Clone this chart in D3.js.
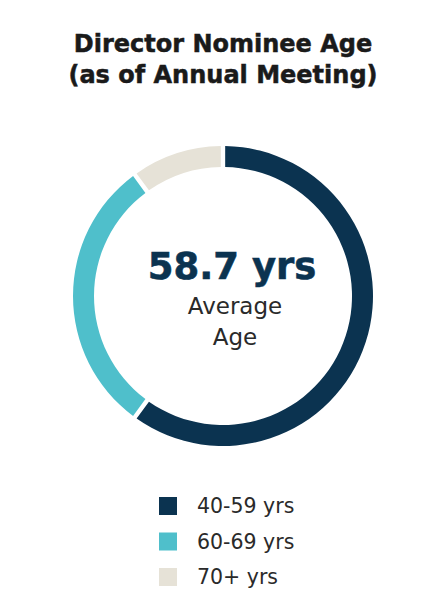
<!DOCTYPE html>
<html>
<head>
<meta charset="utf-8">
<script src="https://cdn.jsdelivr.net/npm/d3@7"></script>
<style>
  html, body { margin: 0; padding: 0; background: #fff; }
  svg { display: block; }
</style>
</head>
<body>
<svg id="chart" width="446" height="590"></svg>
<script>
const categories = ["40-59 yrs", "60-69 yrs", "70+ yrs"];
const values = [60, 30, 10];
const colors = ["#0b3350", "#4fbfcb", "#e6e2d7"];
const titleLines = ["Director Nominee Age", "(as of Annual Meeting)"];
const centerValue = "58.7 yrs";
const centerLabel = ["Average", "Age"];

const svg = d3.select("#chart");
const cx = 223, cy = 296, rOuter = 150, rInner = 129;
const textX = 232;
const font = "'DejaVu Sans', sans-serif";

svg.append("g").selectAll("text").data(titleLines).join("text")
  .attr("x", 223).attr("y", (d, i) => 52 + i * 31)
  .attr("text-anchor", "middle")
  .attr("font-family", font)
  .attr("font-weight", 700)
  .attr("font-size", 24)
  .attr("fill", "#1a1a1a")
  .attr("stroke", "#1a1a1a").attr("stroke-width", 0.5)
  .text(d => d);

const pie = d3.pie().sort(null).value(d => d);
const arc = d3.arc().innerRadius(rInner).outerRadius(rOuter).padAngle(0.022);
const color = d3.scaleOrdinal().domain(categories).range(colors);

svg.append("g").attr("transform", `translate(${cx},${cy})`)
  .selectAll("path").data(pie(values)).join("path")
  .attr("d", arc)
  .attr("fill", (d, i) => color(categories[i]));

svg.append("text").attr("x", textX).attr("y", 279)
  .attr("text-anchor", "middle")
  .attr("font-family", font).attr("font-weight", 700)
  .attr("font-size", 37).attr("fill", "#0b3350")
  .attr("stroke", "#0b3350").attr("stroke-width", 0.6)
  .text(centerValue);

svg.append("g").selectAll("text").data(centerLabel).join("text")
  .attr("x", textX + 3).attr("y", (d, i) => 314 + i * 31)
  .attr("text-anchor", "middle")
  .attr("font-family", font).attr("font-weight", 400)
  .attr("font-size", 23).attr("fill", "#2a2a2a")
  .text(d => d);

const legend = svg.append("g").selectAll("g").data(categories).join("g")
  .attr("transform", (d, i) => `translate(159,${497 + i * 35.5})`);
legend.append("rect").attr("width", 18).attr("height", 18).attr("fill", d => color(d));
legend.append("text").attr("x", 38).attr("y", 16)
  .attr("font-family", font).attr("font-size", 20.5).attr("fill", "#2a2a2a")
  .text(d => d);
</script>
</body>
</html>
